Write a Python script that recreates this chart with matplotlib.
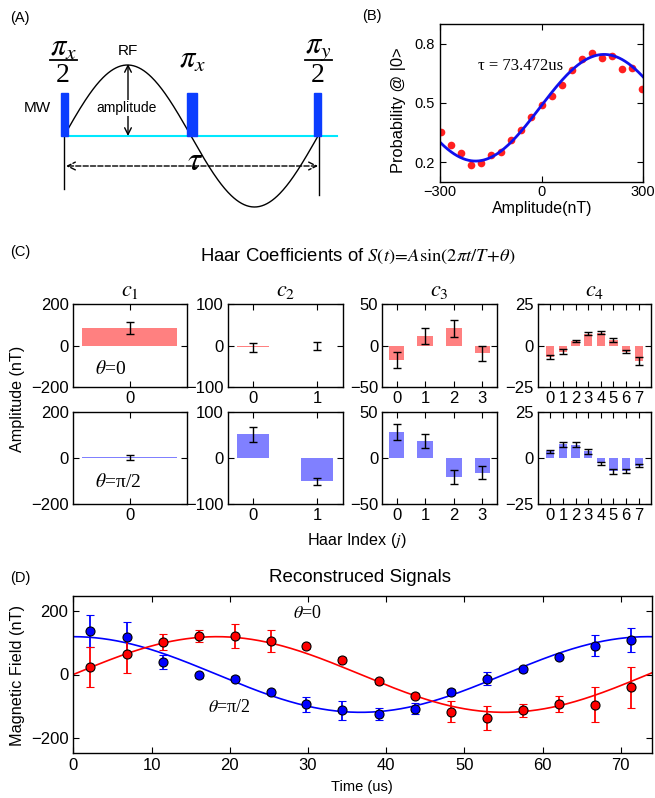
"""Pulse sequence, calibration curve, Haar coefficients and reconstructed signals."""

import matplotlib
matplotlib.use("Agg")
import matplotlib.pyplot as plt
import numpy as np
from matplotlib.patches import Rectangle

plt.rcParams["font.family"] = ["Liberation Sans", "DejaVu Sans"]
plt.rcParams["mathtext.fontset"] = "stix"
plt.rcParams["xtick.direction"] = "in"
plt.rcParams["ytick.direction"] = "in"
plt.rcParams["xtick.top"] = True
plt.rcParams["ytick.right"] = True
plt.rcParams["xtick.major.size"] = 4
plt.rcParams["ytick.major.size"] = 4
plt.rcParams["axes.linewidth"] = 1.0

W, H = 655, 798

# ---- (B) calibration: probability vs field amplitude
AMP_NT = [-297, -268, -239, -208, -179, -149, -119, -89, -60, -30, 0,
          30, 60, 89, 119, 149, 179, 208, 238, 268, 297]
PROB_0 = [0.352, 0.289, 0.247, 0.186, 0.198, 0.238, 0.250, 0.311, 0.363, 0.427, 0.490,
          0.534, 0.591, 0.665, 0.721, 0.752, 0.728, 0.736, 0.674, 0.679, 0.569]
# sine fit: offset, amplitude, period (nT), centre (nT)
B_FIT = (0.476, 0.27, 760.0, -5.0)

# ---- (C) Haar coefficients, one list per order, theta=0 and theta=pi/2
HAAR_THETA0 = [[85], [-4, -1], [-17, 11.5, 21, -9],
               [-7, -3.5, 2.8, 7.3, 8, 3.5, -3.6, -9.4]]
HAAR_THETA0_ERR = [[30], [10, 10], [9.3, 9.5, 10, 9],
                   [1.2, 1.3, 0.7, 1.0, 1.1, 1.0, 1.0, 2.4]]
HAAR_THETA90 = [[2.5], [51, -51], [27.7, 17.8, -20.7, -16.2],
                [3.5, 7.3, 7.2, 3.5, -3, -7.3, -7, -4.2]]
HAAR_THETA90_ERR = [[11], [16, 8], [8.5, 7.5, 8, 7.2],
                    [1.0, 1.3, 1.3, 1.2, 0.8, 1.5, 1.0, 1.0]]
HAAR_YLIM = [200, 100, 50, 25]
HAAR_TITLES = [r"$c_1$", r"$c_2$", r"$c_3$", r"$c_4$"]

# ---- (D) reconstructed signals
TIME_US = [2.18, 6.83, 11.48, 16.1, 20.7, 25.3, 29.8, 34.4,
           39.1, 43.7, 48.3, 52.9, 57.45, 62.06, 66.67, 71.28]
FIELD_THETA0 = [24, 64, 103, 122, 121, 106, 89, 47,
                -22, -68, -118, -137, -114, -94, -96, -41]
FIELD_THETA0_ERR = [64, 59, 26, 20, 38, 34, 8, 8, 8, 8, 33, 38, 21, 26, 55, 66]
FIELD_THETA90 = [138, 119, 40, -3, -14, -56, -95, -114,
                 -124, -108, -55, -13, 17, 56, 92, 110]
FIELD_THETA90_ERR = [52, 47, 22, 8, 8, 8, 25, 29, 19, 16, 10, 20, 8, 8, 33, 38]
D_AMP = 120.0
D_PERIOD = 73.472

RED_BAR = "#ff8080"
BLUE_BAR = "#8080ff"


def rect(left, top, right, bottom):
    return [left / W, 1 - bottom / H, (right - left) / W, (bottom - top) / H]


def ftext(x, y, s, **kw):
    fig.text(x / W, 1 - y / H, s, **kw)


fig = plt.figure(figsize=(W / 100, H / 100), dpi=100)

# ================= (A) pulse sequence schematic (pixel coordinates)
axA = fig.add_axes([0, 1 - 230 / H, 360 / W, 230 / H])
axA.set_xlim(0, 360)
axA.set_ylim(230, 0)
axA.axis("off")
base_y = 136
axA.plot([63, 337], [base_y, base_y], color="#00e8ff", lw=1.5, zorder=2)
for x0, x1 in [(61, 67.5), (186.5, 197), (314, 321)]:
    axA.add_patch(Rectangle((x0, 93), x1 - x0, base_y - 93, color="#0b3dff", zorder=3))
axA.plot([64, 64], [base_y, 189], color="black", lw=1)
axA.plot([319, 319], [base_y, 195], color="black", lw=1)
xs = np.linspace(64, 318, 300)
axA.plot(xs, base_y - 71 * np.sin(2 * np.pi * (xs - 64) / 254), color="black", lw=1)
axA.annotate("", xy=(66, 166), xytext=(318, 166),
             arrowprops=dict(arrowstyle="<->", ls="--", lw=1, color="black",
                             mutation_scale=14, shrinkA=0, shrinkB=0))
axA.text(195, 162, r"$\tau$", fontsize=24, ha="center", va="center")
axA.annotate("", xy=(128, 64), xytext=(128, 136),
             arrowprops=dict(arrowstyle="<->", lw=1, color="black",
                             mutation_scale=12, shrinkA=0, shrinkB=0))
axA.text(127, 108, "amplitude", fontsize=10, ha="center", va="center",
         bbox=dict(facecolor="white", edgecolor="none", pad=1))
axA.text(128, 51, "RF", fontsize=11, ha="center", va="center")
axA.text(37, 108, "MW", fontsize=11, ha="center", va="center")
for xc, sub in [(63, "x"), (318, "y")]:
    axA.text(xc, 48, r"$\pi_%s$" % sub, fontsize=22, ha="center", va="center")
    axA.plot([xc - 13.5, xc + 13.5], [60.3, 60.3], color="black", lw=1.3)
    axA.text(xc, 76, "2", fontsize=20, ha="center", va="center",
             family="Liberation Serif")
axA.text(192, 60, r"$\pi_x$", fontsize=22, ha="center", va="center")
ftext(20, 18, "(A)", fontsize=10.5, ha="center", va="center")

# ================= (B) calibration
axB = fig.add_axes(rect(440, 24, 643, 182))
axB.plot(AMP_NT, PROB_0, "o", color="#ff2020", ms=5.5, mec="none")
xf = np.linspace(-300, 300, 400)
off, amp, per, cen = B_FIT
axB.plot(xf, off + amp * np.sin(2 * np.pi * (xf - cen) / per), color="#1010ee", lw=2)
axB.set_xlim(-300, 300)
axB.set_ylim(0.1, 0.9)
axB.set_xticks([-300, 0, 300])
axB.set_yticks([0.2, 0.5, 0.8])
axB.tick_params(labelsize=10.5)
axB.tick_params(axis="x", pad=2)
ftext(542, 209, "Amplitude(nT)", fontsize=11.5, ha="center", va="center")
ftext(399, 110, "Probability @ |0>", fontsize=11.8, rotation=90,
      ha="center", va="center")
axB.text(-187, 0.685, r"τ = 73.472us", fontsize=12, family="Liberation Serif",
         va="center")
ftext(372, 16, "(B)", fontsize=10.5, ha="center", va="center")

# ================= (C) Haar coefficients
col_x = [(72.7, 186.7), (227.7, 343), (382.3, 496.7), (537.7, 651.3)]
row_y = [(304.3, 387.3), (411.7, 504)]
xlims = [(-0.3, 0.3), (-0.4, 1.4), (-0.5, 3.5), (-1, 8)]
widths = [0.5, 0.5, 0.55, 0.65]
rows = [(HAAR_THETA0, HAAR_THETA0_ERR, RED_BAR),
        (HAAR_THETA90, HAAR_THETA90_ERR, BLUE_BAR)]
for r, (vals, errs, col) in enumerate(rows):
    for c in range(4):
        ax = fig.add_axes(rect(col_x[c][0], row_y[r][0], col_x[c][1], row_y[r][1]))
        idx = np.arange(len(vals[c]))
        ax.bar(idx, vals[c], width=widths[c], color=col, edgecolor="none")
        ax.errorbar(idx, vals[c], yerr=errs[c], fmt="none", ecolor="black",
                    elinewidth=1, capsize=3, capthick=1)
        lim = HAAR_YLIM[c]
        ax.set_ylim(-lim, lim)
        ax.set_yticks([-lim, 0, lim])
        ax.set_xlim(*xlims[c])
        ax.set_xticks(idx)
        ax.tick_params(labelsize=12, pad=3)
        if r == 0:
            ax.set_title(HAAR_TITLES[c], fontsize=16, pad=6)
ftext(111, 369, r"$\theta$=0", fontsize=14, ha="center", va="center",
      family="Liberation Serif")
ftext(118, 482, r"$\theta$=π/2", fontsize=14, ha="center", va="center",
      family="Liberation Serif")
ftext(358, 256, r"Haar Coefficients of $S(t)\!=\!A\mathrm{sin}(2\pi t/T\!+\!\theta)$",
      fontsize=13.3, ha="center", va="center")
ftext(18, 399, "Amplitude (nT)", fontsize=11.6, rotation=90, ha="center", va="center")
ftext(357, 540, r"Haar Index ($j$)", fontsize=11.6, ha="center", va="center")
ftext(20, 252, "(C)", fontsize=10.5, ha="center", va="center")

# ================= (D) reconstructed signals
axD = fig.add_axes(rect(73.3, 595.7, 652, 753.3))
tt = np.linspace(0, 74, 400)
axD.plot(tt, D_AMP * np.cos(2 * np.pi * tt / D_PERIOD), color="blue", lw=1.2, zorder=2)
axD.plot(tt, D_AMP * np.sin(2 * np.pi * tt / D_PERIOD), color="red", lw=1.2, zorder=2)
axD.errorbar(TIME_US, FIELD_THETA90, yerr=FIELD_THETA90_ERR, fmt="o", color="blue",
             ecolor="blue", mec="black", mew=0.8, ms=6.5, elinewidth=1.3,
             capsize=3, capthick=1.3, zorder=3)
axD.errorbar(TIME_US, FIELD_THETA0, yerr=FIELD_THETA0_ERR, fmt="o", color="red",
             ecolor="red", mec="black", mew=0.8, ms=6.5, elinewidth=1.3,
             capsize=3, capthick=1.3, zorder=3)
axD.set_xlim(0, 74)
axD.set_ylim(-250, 250)
axD.set_xticks(range(0, 71, 10))
axD.set_yticks([-200, 0, 200])
axD.tick_params(labelsize=12)
ftext(362, 787, "Time (us)", fontsize=10.5, ha="center", va="center")
ftext(18, 675, "Magnetic Field (nT)", fontsize=11.7, rotation=90,
      ha="center", va="center")
axD.text(30, 195, r"$\theta$=0", fontsize=13, family="Liberation Serif",
         ha="center", va="center")
axD.text(20, -105, r"$\theta$=π/2", fontsize=13, family="Liberation Serif",
         ha="center", va="center")
ftext(360, 577, "Reconstruced Signals", fontsize=13.5, ha="center", va="center")
ftext(20, 578, "(D)", fontsize=10.5, ha="center", va="center")

fig.savefig("out.png", dpi=100)
